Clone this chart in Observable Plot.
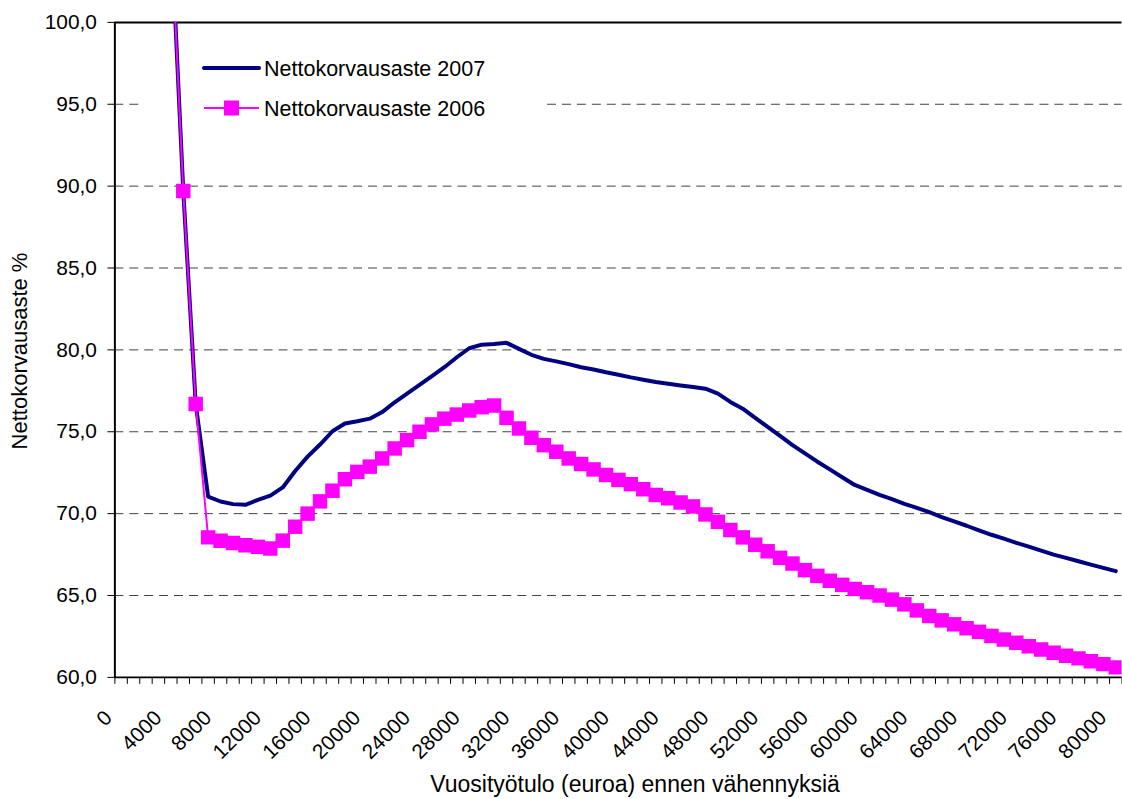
<!DOCTYPE html>
<html><head><meta charset="utf-8">
<script src="https://cdn.jsdelivr.net/npm/d3@7"></script>
<script src="https://cdn.jsdelivr.net/npm/@observablehq/plot@0.6"></script>
<style>
html,body{margin:0;padding:0;background:#fff;overflow:hidden;}
#wrap{position:relative;width:1122px;height:799px;overflow:hidden;font-family:"Liberation Sans",Arial,sans-serif;}
#wrap svg{position:absolute;left:0;top:0;}
</style></head><body><div id="wrap"></div>
<script>
const incomes = [4000,5000,6000,7000,8000,9000,10000,11000,12000,13000,14000,15000,16000,17000,18000,19000,20000,
  21000,22000,23000,24000,25000,26000,27000,28000,29000,30000,31000,32000,33000,34000,35000,36000,37000,38000,39000,40000,
  41000,42000,43000,44000,45000,46000,47000,48000,49000,50000,51000,52000,53000,54000,55000,56000,57000,58000,59000,60000,
  61000,62000,63000,64000,65000,66000,67000,68000,69000,70000,71000,72000,73000,74000,75000,76000,77000,78000,79000,80000];
const rate2007 = [106,89.7,76.7,71.04,70.74,70.58,70.54,70.84,71.1,71.6,72.6,73.48,74.22,75.03,75.5,75.64,75.8,
  76.2,76.8,77.33,77.87,78.4,78.94,79.55,80.1,80.32,80.36,80.43,80.06,79.7,79.45,79.3,79.13,78.94,78.8,78.63,78.48,
  78.32,78.18,78.04,77.93,77.83,77.73,77.63,77.33,76.82,76.41,75.85,75.3,74.75,74.18,73.68,73.17,72.7,72.22,71.75,71.45,
  71.14,70.88,70.6,70.35,70.09,69.79,69.52,69.26,68.98,68.71,68.47,68.22,67.98,67.74,67.5,67.3,67.09,66.89,66.69,66.49];
const rate2006 = [106,89.7,76.7,68.55,68.35,68.2,68.07,67.97,67.87,68.35,69.2,70.0,70.75,71.4,72.1,72.55,72.87,
  73.37,73.98,74.49,75.0,75.45,75.8,76.05,76.3,76.5,76.6,75.85,75.2,74.63,74.18,73.78,73.37,73.03,72.7,72.36,72.06,
  71.8,71.49,71.14,70.94,70.68,70.44,69.95,69.5,69.0,68.55,68.1,67.7,67.3,66.95,66.55,66.2,65.9,65.65,65.4,65.2,
  65.0,64.75,64.46,64.09,63.75,63.48,63.24,63.0,62.78,62.53,62.31,62.11,61.9,61.7,61.5,61.32,61.16,60.99,60.81,60.61];
const yTicks = [60,65,70,75,80,85,90,95,100];
const xLabels = [0,4000,8000,12000,16000,20000,24000,28000,32000,36000,40000,44000,48000,52000,56000,60000,64000,68000,72000,76000,80000];
const seriesNames = ["Nettokorvausaste 2007","Nettokorvausaste 2006"];
const yTitle = "Nettokorvausaste %";
const xTitle = "Vuosityötulo (euroa) ennen vähennyksiä";

const data07 = incomes.map((x,i)=>({x, y: rate2007[i]}));
const data06 = incomes.map((x,i)=>({x, y: rate2006[i]}));
// category boundaries (Excel category axis: ticks between categories 0..80000)
const xBoundaries = d3.range(-500, 81000, 1000);
const fmt = d => d.toFixed(1).replace(".", ",");
const FONT = '"Liberation Sans", Arial, sans-serif';

const chart = Plot.plot({
  width: 1128, height: 799,
  marginLeft: 115, marginRight: 0.5, marginTop: 22, marginBottom: 118.5,
  x: {domain: [-500, 80500]},
  y: {domain: [60, 100]},
  style: {fontFamily: FONT, color: "#000", background: "transparent", overflow: "visible"},
  marks: [
    Plot.ruleY(yTicks.filter(d => d > 60 && d < 100), {stroke: "#000", strokeOpacity: 0.75, strokeWidth: 1, strokeDasharray: "9,6"}),
    Plot.ruleY([100], {stroke: "#000", strokeWidth: 2}),
    Plot.line(data07, {x: "x", y: "y", stroke: "#000080", strokeWidth: 4, strokeLinejoin: "round", clip: true}),
    Plot.line(data06, {x: "x", y: "y", stroke: "#FF00FF", strokeWidth: 2, strokeLinejoin: "round", clip: true}),
    Plot.dot(data06, {x: "x", y: "y", symbol: "square", r: 8.2, fill: "#FF00FF", stroke: null, clip: true}),
    Plot.axisY(yTicks, {tickSize: 7, tickPadding: 11, tickFormat: fmt, fontSize: 21, label: null}),
    Plot.axisX(xBoundaries, {tickSize: 7, tickFormat: () => "", label: null}),
    Plot.ruleX([-500], {stroke: "#000", strokeWidth: 2}),
    Plot.ruleY([60], {stroke: "#000", strokeWidth: 2}),
    Plot.text(xLabels, {x: d => d, text: d => String(d), frameAnchor: "bottom", rotate: -45, textAnchor: "end", dx: -8, dy: 42, fontSize: 21})
  ]
});
const wrap = document.getElementById("wrap");
wrap.appendChild(chart);

// legend background: inserted right after the dashed gridlines so data lines stay on top
const grid = chart.querySelector("g[aria-label='rule']");
if (grid) {
  const bg = document.createElementNS("http://www.w3.org/2000/svg", "rect");
  bg.setAttribute("x", 140); bg.setAttribute("y", 40);
  bg.setAttribute("width", 405); bg.setAttribute("height", 90);
  bg.setAttribute("fill", "#fff");
  grid.parentNode.insertBefore(bg, grid.nextSibling);
}

// legend + axis titles overlay
const ov = d3.select(wrap).append("svg").attr("width", 1122).attr("height", 799)
  .style("font-family", FONT).style("pointer-events", "none");
ov.append("line").attr("x1", 204).attr("x2", 259).attr("y1", 68).attr("y2", 68)
  .attr("stroke", "#000080").attr("stroke-width", 4).attr("stroke-linecap", "round");
ov.append("text").attr("x", 264).attr("y", 76).attr("font-size", 21.5).attr("fill", "#000").text(seriesNames[0]);
ov.append("line").attr("x1", 204).attr("x2", 259).attr("y1", 108).attr("y2", 108)
  .attr("stroke", "#FF00FF").attr("stroke-width", 2);
ov.append("rect").attr("x", 224).attr("y", 100.5).attr("width", 15).attr("height", 15).attr("fill", "#FF00FF");
ov.append("text").attr("x", 264).attr("y", 116).attr("font-size", 21.5).attr("fill", "#000").text(seriesNames[1]);
ov.append("text").attr("transform", "translate(26.5,351) rotate(-90)").attr("text-anchor", "middle")
  .attr("font-size", 22).attr("fill", "#000").text(yTitle);
ov.append("text").attr("x", 635).attr("y", 792).attr("text-anchor", "middle")
  .attr("font-size", 23).attr("fill", "#000").text(xTitle);
</script></body></html>
